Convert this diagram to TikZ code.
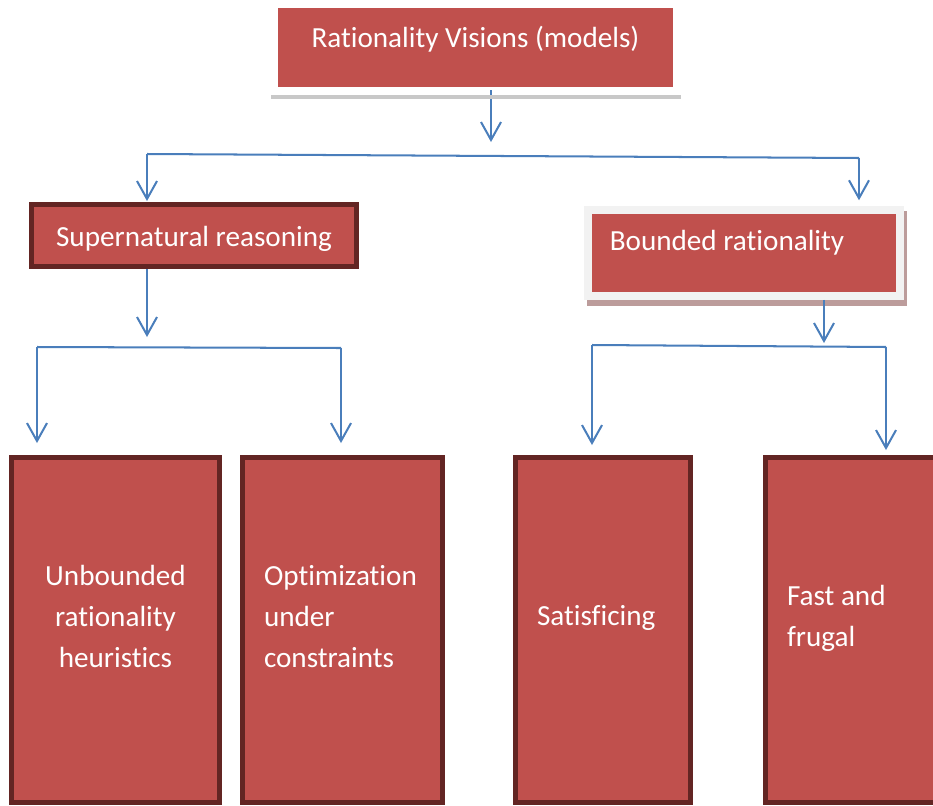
\documentclass[tikz,border=0pt]{standalone}
\usepackage{fontspec}
\setmainfont{Carlito}[Ligatures=CommonOff]
\usepackage{tikz}
\usetikzlibrary{
  arrows.meta,
  calc
}
\definecolor{rvRed}{HTML}{C0504D}
\definecolor{rvDark}{HTML}{632523}
\definecolor{rvBlue}{HTML}{4A7EBB}
\definecolor{rvFrame}{HTML}{F2F2F2}
\definecolor{rvShade}{HTML}{BC9C9B}
\definecolor{rvBar}{HTML}{C8C8C8}
\tikzset{
  rvnode/.style={
    rectangle, fill=rvRed, text=white, inner ysep=0pt,
    font=\fontsize{16.6pt}{23.6pt}\selectfont
  },
  headbox/.style={rvnode, minimum width=7.9cm, minimum height=1.58cm,
    text height=0pt, text depth=0pt},
  darkbox/.style={rvnode, draw=rvDark, line width=0.092cm},
  framebox/.style={rvnode, draw=rvFrame, line width=0.15cm,
    minimum width=6.25cm, minimum height=1.73cm, text width=5.37cm,
    align=flush left, inner xsep=0.44cm, text height=0pt, text depth=0.12cm},
  leafbox/.style={darkbox, minimum height=6.908cm, text height=0pt,
    align=flush left, inner xsep=0.434cm},
  link/.style={-{Straight Barb[length=10.2pt, width=11.4pt]}, rvBlue, line width=1.15pt},
  bar/.style={rvBlue, line width=1.15pt}
}
\begin{document}
\begin{tikzpicture}[x=0.02cm, y=-0.02cm]
  \useasboundingbox (0,0) rectangle (933,805);
  \clip (0,0) rectangle (933,805);
  % upper level
  \node[headbox] (top) at (475.5,47.5) {Rationality Visions (models)};
  \node[darkbox, minimum width=6.508cm, minimum height=1.248cm,
    text height=0.42cm, text depth=0pt] (sup) at (194,235.5) {Supernatural reasoning};
  \fill[rvShade] (587,211) rectangle (907,306);
  \node[framebox] (br) at (744,253) {Bounded rationality};
  % leaves
  \node[leafbox, minimum width=4.168cm, text width=3.968cm, inner xsep=0.1cm,
    align=flush center, text depth=1.8cm] (ub) at (115.5,630) {Unbounded\\rationality\\heuristics};
  \node[leafbox, minimum width=4.008cm, text width=3.14cm, text depth=1.8cm] (opt) at (342.5,630) {Optimization\\under\\constraints};
  \node[leafbox, minimum width=3.508cm, text width=2.64cm, text depth=0.2cm] (sat) at (603,630) {Satisficing};
  \node[leafbox, minimum width=3.508cm, text width=2.64cm, text depth=1.0cm] (ff) at (853,630) {Fast and\\frugal};
  % first split
  \coordinate (m1) at (491,156);
  \coordinate (l1) at (147,154);
  \coordinate (r1) at (859,158);
  \draw[link, shorten <=0.06cm, shorten >=0.28cm] (m1 |- top.south) -- (m1);
  \fill[rvBar] (271,95) rectangle (681,99);
  \draw[bar] (l1) -- (r1);
  \draw[link, shorten >=0.02cm] (l1) -- (l1 |- sup.north);
  \draw[link, shorten >=0.115cm] (r1) -- (r1 |- br.north);
  % second split
  \coordinate (m2) at (147,348);
  \coordinate (l2) at (37,347);
  \coordinate (r2) at (341,348);
  \draw[link, shorten >=0.22cm] (m2 |- sup.south) -- (m2);
  \draw[bar] (l2) -- (r2);
  \draw[link, shorten >=0.24cm] (l2) -- (l2 |- ub.north);
  \draw[link, shorten >=0.24cm] (r2) -- (r2 |- opt.north);
  % third split
  \coordinate (m3) at (824,346);
  \coordinate (l3) at (592,345);
  \coordinate (r3) at (886,347);
  \draw[link, shorten >=0.06cm] (m3 |- br.south) -- (m3);
  \draw[bar] (l3) -- (r3);
  \draw[link, shorten >=0.2cm] (l3) -- (l3 |- sat.north);
  \draw[link, shorten >=0.1cm] (r3) -- (r3 |- ff.north);
\end{tikzpicture}
\end{document}
